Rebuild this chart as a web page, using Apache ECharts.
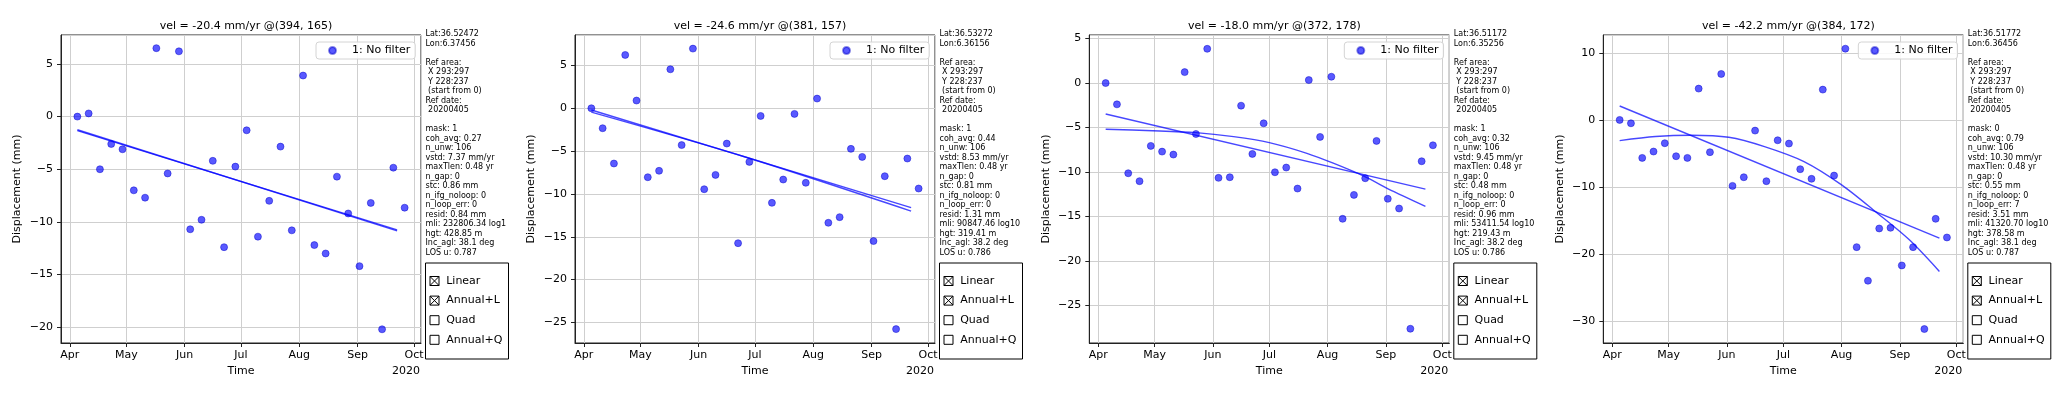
<!DOCTYPE html>
<html>
<head>
<meta charset="utf-8">
<script src="https://cdn.jsdelivr.net/npm/echarts@6/dist/echarts.min.js"></script>
<style>
  html, body { margin: 0; padding: 0; background: #fff; }
  #chart { width: 2067px; height: 395px; }
</style>
</head>
<body>
<div id="chart"></div>
<script>
// acquisition dates (6-day repeat)
const dates = [
  '2020-04-05', '2020-04-11', '2020-04-17', '2020-04-23', '2020-04-29',
  '2020-05-05', '2020-05-11', '2020-05-17', '2020-05-23', '2020-05-29',
  '2020-06-04', '2020-06-10', '2020-06-16', '2020-06-22', '2020-06-28',
  '2020-07-04', '2020-07-10', '2020-07-16', '2020-07-22', '2020-07-28',
  '2020-08-03', '2020-08-09', '2020-08-15', '2020-08-21', '2020-08-27',
  '2020-09-02', '2020-09-08', '2020-09-14', '2020-09-20', '2020-09-26'
]

// displacement (mm) for each pixel
const disp1 = [0, 0.3, -5.0, -2.6, -3.1, -7.0, -7.7, 6.5, -5.4, 6.2, -10.7, -9.8, -4.2, -12.4, -4.75,
  -1.3, -11.4, -8.0, -2.85, -10.8, 3.9, -12.2, -13.0, -5.7, -9.2, -14.2, -8.2, -20.2, -4.85, -8.65]
const disp2 = [0, -2.33, -6.45, 6.22, 0.9, -8.05, -7.3, 4.55, -4.3, 6.96, -9.45, -7.78, -4.12, -15.75, -6.26,
  -0.9, -11.04, -8.32, -0.66, -8.7, 1.13, -13.37, -12.71, -4.74, -5.68, -15.5, -7.93, -25.78, -5.87, -9.37]
const disp3 = [0, -2.39, -10.13, -11.02, -7.06, -7.7, -8.03, 1.23, -5.72, 3.85, -10.65, -10.58, -2.54, -7.96, -4.52,
  -10.02, -9.49, -11.85, 0.34, -6.05, 0.71, -15.25, -12.56, -10.69, -6.5, -13.0, -14.09, -27.6, -8.78, -6.99]
const disp4 = [0, -0.5, -5.66, -4.71, -3.47, -5.41, -5.66, 4.67, -4.81, 6.85, -9.83, -8.54, -1.59, -9.13, -3.03,
  -3.52, -7.34, -8.78, 4.52, -8.29, 10.62, -18.96, -23.97, -16.18, -16.08, -21.69, -18.96, -31.17, -14.74, -17.52]

// fitted models
const linear1 = [['2020-04-05', -1.33], ['2020-09-22', -10.76]]
const annual1 = [['2020-04-05', -1.25], ['2020-09-22', -10.85]]
const linear2 = [['2020-04-05', -0.2], ['2020-09-22', -11.6]]
const annual2 = [['2020-04-05', -0.45], ['2020-06-25', -5.63], ['2020-09-22', -12.0]]
const linear3 = [['2020-04-05', -3.48], ['2020-09-22', -11.92]]
const annual3 = [['2020-04-05', -5.19], ['2020-04-30', -5.35], ['2020-05-23', -5.57], ['2020-06-12', -6.02],
  ['2020-07-01', -6.69], ['2020-07-21', -7.89], ['2020-08-04', -9.0], ['2020-08-20', -10.43],
  ['2020-09-05', -12.18], ['2020-09-22', -13.86]]
const linear4 = [['2020-04-05', 2.08], ['2020-09-22', -17.62]]
const annual4 = [['2020-04-05', -3.08], ['2020-04-24', -2.48], ['2020-05-13', -2.28], ['2020-06-02', -2.58],
  ['2020-06-21', -3.97], ['2020-07-12', -6.2], ['2020-08-01', -9.68], ['2020-08-20', -13.9],
  ['2020-09-06', -17.87], ['2020-09-22', -22.58]]

const titles = [
  'vel = -20.4 mm/yr @(394, 165)',
  'vel = -24.6 mm/yr @(381, 157)',
  'vel = -18.0 mm/yr @(372, 178)',
  'vel = -42.2 mm/yr @(384, 172)'
]
const yMin = [-21.5, -27.4, -29.2, -33.25]
const yMax = [7.75, 8.55, 5.4, 12.66]
const yStep = [5, 5, 5, 10]

const infoTexts = [
  ['Lat:36.52472', 'Lon:6.37456', '', 'Ref area:', ' X 293:297', ' Y 228:237', ' (start from 0)', 'Ref date:', ' 20200405', '',
    'mask: 1', 'coh_avg: 0.27', 'n_unw: 106', 'vstd: 7.37 mm/yr', 'maxTlen: 0.48 yr', 'n_gap: 0', 'stc: 0.86 mm',
    'n_ifg_noloop: 0', 'n_loop_err: 0', 'resid: 0.84 mm', 'mli: 232806.34 log10', 'hgt: 428.85 m', 'Inc_agl: 38.1 deg', 'LOS u: 0.787'],
  ['Lat:36.53272', 'Lon:6.36156', '', 'Ref area:', ' X 293:297', ' Y 228:237', ' (start from 0)', 'Ref date:', ' 20200405', '',
    'mask: 1', 'coh_avg: 0.44', 'n_unw: 106', 'vstd: 8.53 mm/yr', 'maxTlen: 0.48 yr', 'n_gap: 0', 'stc: 0.81 mm',
    'n_ifg_noloop: 0', 'n_loop_err: 0', 'resid: 1.31 mm', 'mli: 90847.46 log10', 'hgt: 319.41 m', 'Inc_agl: 38.2 deg', 'LOS u: 0.786'],
  ['Lat:36.51172', 'Lon:6.35256', '', 'Ref area:', ' X 293:297', ' Y 228:237', ' (start from 0)', 'Ref date:', ' 20200405', '',
    'mask: 1', 'coh_avg: 0.32', 'n_unw: 106', 'vstd: 9.45 mm/yr', 'maxTlen: 0.48 yr', 'n_gap: 0', 'stc: 0.48 mm',
    'n_ifg_noloop: 0', 'n_loop_err: 0', 'resid: 0.96 mm', 'mli: 53411.54 log10', 'hgt: 219.43 m', 'Inc_agl: 38.2 deg', 'LOS u: 0.786'],
  ['Lat:36.51772', 'Lon:6.36456', '', 'Ref area:', ' X 293:297', ' Y 228:237', ' (start from 0)', 'Ref date:', ' 20200405', '',
    'mask: 0', 'coh_avg: 0.79', 'n_unw: 106', 'vstd: 10.30 mm/yr', 'maxTlen: 0.48 yr', 'n_gap: 0', 'stc: 0.55 mm',
    'n_ifg_noloop: 0', 'n_loop_err: 7', 'resid: 3.51 mm', 'mli: 41320.70 log10', 'hgt: 378.58 m', 'Inc_agl: 38.1 deg', 'LOS u: 0.787']
]

const checkLabels = ['Linear', 'Annual+L', 'Quad', 'Annual+Q']
const checkState = [true, true, false, false]

const disps = [disp1, disp2, disp3, disp4]
const linears = [linear1, linear2, linear3, linear4]
const annuals = [annual1, annual2, annual3, annual4]

const FONT = 'DejaVu Sans'
const gridLefts = [61, 575, 1089.3, 1603.3]
const gridTop = 35
const gridW = 360
const gridH = 308
const xMin = new Date(2020, 2, 27, 7, 12).getTime()
const xMax = new Date(2020, 9, 4, 16, 48).getTime()
const DAY = 24 * 3600 * 1000

const minus = v => (v < 0 ? '\u2212' + Math.abs(v) : String(v))

const chart = echarts.init(document.getElementById('chart'))

const option = {
  animation: false,
  backgroundColor: '#fff',
  title: [],
  legend: [],
  grid: [],
  xAxis: [],
  yAxis: [],
  series: [],
  graphic: []
}

gridLefts.forEach((gl, i) => {
  option.grid.push({
    left: gl, top: gridTop, width: gridW, height: gridH,
    show: true, borderColor: '#222', borderWidth: 1, backgroundColor: 'transparent'
  })

  option.title.push({
    text: titles[i],
    left: gl + gridW / 2,
    top: 16,
    textAlign: 'center',
    textStyle: { fontFamily: FONT, fontSize: 11, fontWeight: 'normal', color: '#000' }
  })

  option.legend.push({
    data: ['1: No filter'],
    left: gl + 255,
    top: 42,
    icon: 'circle',
    itemWidth: 7,
    itemHeight: 7,
    padding: [3, 5, 3, 12],
    backgroundColor: 'rgba(255,255,255,0.85)',
    borderColor: '#d4d4d4',
    borderWidth: 1,
    borderRadius: 3,
    selectedMode: false,
    textStyle: { fontFamily: FONT, fontSize: 11, color: '#000', padding: [0, 0, 0, 11] }
  })

  option.xAxis.push({
    type: 'time',
    gridIndex: i,
    min: xMin,
    max: xMax,
    minInterval: 28 * DAY,
    maxInterval: 31 * DAY,
    name: 'Time',
    nameLocation: 'middle',
    nameGap: 22,
    nameTextStyle: { fontFamily: FONT, fontSize: 11, color: '#000' },
    axisLine: { show: true, onZero: false, lineStyle: { color: '#222', width: 1 } },
    axisTick: { show: true, length: 4, lineStyle: { color: '#222' } },
    axisLabel: {
      formatter: '{MMM}',
      showMinLabel: false,
      showMaxLabel: false,
      margin: 7,
      fontFamily: FONT, fontSize: 11, color: '#000'
    },
    splitLine: { show: true, lineStyle: { color: '#cfcfcf', width: 1 } }
  })

  option.yAxis.push({
    type: 'value',
    gridIndex: i,
    min: yMin[i],
    max: yMax[i],
    minInterval: yStep[i],
    maxInterval: yStep[i],
    name: 'Displacement (mm)',
    nameLocation: 'middle',
    nameGap: 38,
    nameRotate: 90,
    nameTextStyle: { fontFamily: FONT, fontSize: 11, color: '#000' },
    axisLine: { show: true, onZero: false, lineStyle: { color: '#222', width: 1 } },
    axisTick: { show: true, length: 4, lineStyle: { color: '#222' } },
    axisLabel: {
      formatter: minus,
      showMinLabel: false,
      showMaxLabel: false,
      margin: 8,
      fontFamily: FONT, fontSize: 11, color: '#000'
    },
    splitLine: { show: true, lineStyle: { color: '#cfcfcf', width: 1 } }
  })

  option.series.push({
    name: '1: No filter',
    type: 'scatter',
    xAxisIndex: i,
    yAxisIndex: i,
    data: dates.map((d, k) => [d, disps[i][k]]),
    symbolSize: 7,
    itemStyle: { color: 'rgba(0,0,255,0.65)', borderColor: 'rgba(0,0,200,0.45)', borderWidth: 1, opacity: 1 },
    z: 2
  })
  option.series.push({
    name: 'Linear',
    type: 'line',
    xAxisIndex: i,
    yAxisIndex: i,
    data: linears[i],
    symbol: 'none',
    lineStyle: { color: '#0000ff', width: 1.4, opacity: 0.72 },
    z: 3
  })
  option.series.push({
    name: 'Annual+L',
    type: 'line',
    xAxisIndex: i,
    yAxisIndex: i,
    data: annuals[i],
    smooth: 0.3,
    symbol: 'none',
    lineStyle: { color: '#0000ff', width: 1.4, opacity: 0.72 },
    z: 3
  })

  // "2020" offset label under the last month tick
  option.graphic.push({
    type: 'text',
    x: gl + gridW - 15,
    y: 371,
    style: { text: '2020', font: '11px "' + FONT + '"', fill: '#000', align: 'center', verticalAlign: 'middle' }
  })

  // side info text, clipped at the panel edge
  const tx = gl + 364.5
  option.graphic.push({
    type: 'text',
    x: tx,
    y: 29.3,
    style: {
      text: infoTexts[i].join('\n'),
      font: '8px "' + FONT + '"',
      fill: '#000',
      lineHeight: 9.5,
      width: 84,
      overflow: 'truncate',
      ellipsis: '',
      align: 'left',
      verticalAlign: 'top'
    }
  })

  // check buttons box
  const bx = tx
  const by = 263
  option.graphic.push({
    type: 'rect',
    shape: { x: bx, y: by, width: 83, height: 96 },
    style: { fill: '#fff', stroke: '#000', lineWidth: 1 }
  })
  checkLabels.forEach((lab, k) => {
    const cy = by + 18 + k * 19.6
    const sx = bx + 4.5
    const sy = cy - 4.5
    option.graphic.push({
      type: 'rect',
      shape: { x: sx, y: sy, width: 9, height: 9 },
      style: { fill: '#fff', stroke: '#000', lineWidth: 1 }
    })
    if (checkState[k]) {
      option.graphic.push({
        type: 'polyline',
        shape: { points: [[sx, sy], [sx + 9, sy + 9]] },
        style: { stroke: '#000', lineWidth: 1 }
      })
      option.graphic.push({
        type: 'polyline',
        shape: { points: [[sx + 9, sy], [sx, sy + 9]] },
        style: { stroke: '#000', lineWidth: 1 }
      })
    }
    option.graphic.push({
      type: 'text',
      x: bx + 20.7,
      y: cy,
      style: { text: lab, font: '11px "' + FONT + '"', fill: '#000', align: 'left', verticalAlign: 'middle' }
    })
  })
})

chart.setOption(option)
</script>
</body>
</html>
